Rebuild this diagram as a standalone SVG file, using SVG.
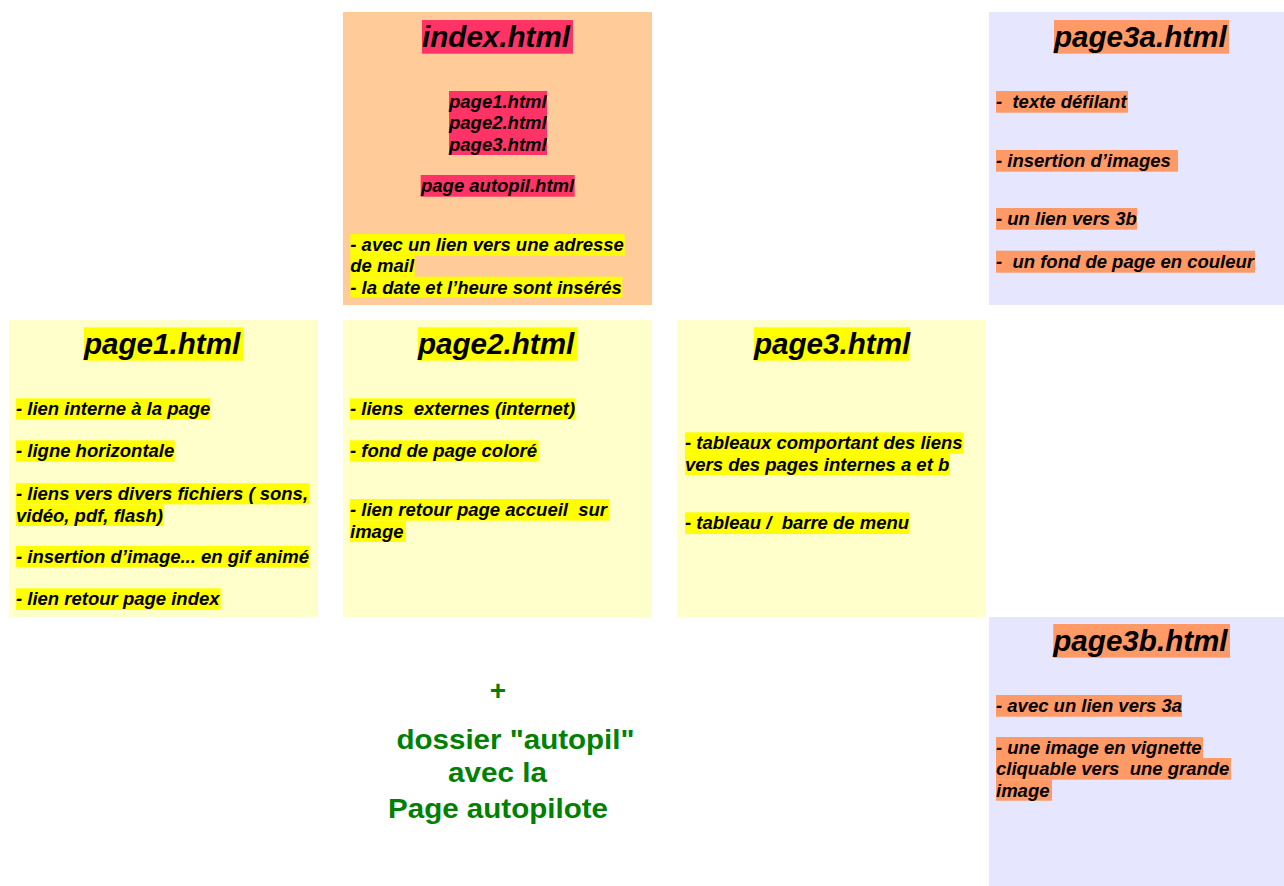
<svg xmlns="http://www.w3.org/2000/svg" width="1284" height="886" viewBox="0 0 1284 886">
<style>
text{font-family:"Liberation Sans",Arial,sans-serif;font-weight:bold;white-space:pre}
.t{font-size:29.6px;font-style:italic;fill:#000}
.b{font-size:18.5px;font-style:italic;fill:#000}
.g{font-size:28px;fill:#008000}
.idx{fill:#ffcc99}.yl{fill:#ffffcc}.lv{fill:#e6e6ff}
.hr{fill:#ff3366}.hy{fill:#ffff00}.ho{fill:#ff9966}
</style>
<rect width="1284" height="886" fill="#ffffff"/>
<g id="index">
<rect class="idx" x="343" y="12" width="309" height="293"/>
<rect class="hr" x="422" y="20" width="151" height="33.7"/>
<text class="t" x="422" y="47">index.html</text>
<rect class="hr" x="449" y="91" width="98" height="64"/>
<text class="b" x="449" y="108">page1.html</text>
<text class="b" x="449" y="129.3">page2.html</text>
<text class="b" x="449" y="150.6">page3.html</text>
<rect class="hr" x="420.7" y="175" width="154" height="21.7"/>
<text class="b" x="421" y="192">page autopil.html</text>
<rect class="hy" x="350.3" y="234" width="274.4" height="21.7"/>
<text class="b" x="350.3" y="251">- avec un lien vers une adresse</text>
<rect class="hy" x="350.3" y="255.7" width="64.4" height="21"/>
<text class="b" x="350.3" y="272.3">de mail</text>
<rect class="hy" x="350.3" y="276.7" width="272" height="20.6"/>
<text class="b" x="350.3" y="293.6">- la date et l’heure sont insérés</text>
</g>
<g id="page3a">
<rect class="lv" x="989" y="12" width="295" height="293"/>
<rect class="ho" x="1054" y="20" width="175" height="33.7"/>
<text class="t" x="1054" y="47">page3a.html</text>
<rect class="ho" x="996" y="91" width="132" height="21.7"/>
<text class="b" x="996" y="108">-  texte défilant</text>
<rect class="ho" x="996" y="150" width="182" height="21.7"/>
<text class="b" x="996" y="167">- insertion d’images </text>
<rect class="ho" x="996" y="208" width="141" height="21.7"/>
<text class="b" x="996" y="225">- un lien vers 3b</text>
<rect class="ho" x="996" y="250.7" width="259" height="22"/>
<text class="b" x="996" y="267.7">-  un fond de page en couleur</text>
</g>
<g id="page1">
<rect class="yl" x="9" y="320" width="309" height="297"/>
<rect class="hy" x="84" y="327.3" width="159" height="33.4"/>
<text class="t" x="84" y="354.4">page1.html</text>
<rect class="hy" x="16" y="398.3" width="194.3" height="21.4"/>
<text class="b" x="16" y="415.3">- lien interne à la page</text>
<rect class="hy" x="16" y="440.3" width="158.7" height="21.4"/>
<text class="b" x="16" y="457.3">- ligne horizontale</text>
<rect class="hy" x="16" y="483.3" width="293.7" height="21"/>
<text class="b" x="16" y="500.3">- liens vers divers fichiers ( sons,</text>
<rect class="hy" x="16" y="504.3" width="147.3" height="21.7"/>
<text class="b" x="16" y="521.6">vidéo, pdf, flash)</text>
<rect class="hy" x="16" y="546" width="293.3" height="21.3"/>
<text class="b" x="16" y="563">- insertion d’image... en gif animé</text>
<rect class="hy" x="16" y="588.3" width="204.7" height="21.7"/>
<text class="b" x="16" y="605.3">- lien retour page index</text>
</g>
<g id="page2">
<rect class="yl" x="343" y="320" width="309" height="297"/>
<rect class="hy" x="418" y="327.3" width="159" height="33.4"/>
<text class="t" x="418" y="354.4">page2.html</text>
<rect class="hy" x="350" y="398.3" width="225" height="21.4"/>
<text class="b" x="350" y="415.3">- liens  externes (internet)</text>
<rect class="hy" x="350" y="440.3" width="188.7" height="21.4"/>
<text class="b" x="350" y="457.3">- fond de page coloré</text>
<rect class="hy" x="350" y="499" width="259" height="21.7"/>
<text class="b" x="350" y="516">- lien retour page accueil  sur</text>
<rect class="hy" x="350" y="520.7" width="56" height="21.3"/>
<text class="b" x="350" y="537.5">image</text>
</g>
<g id="page3">
<rect class="yl" x="677" y="320" width="309" height="297"/>
<rect class="hy" x="754" y="327.3" width="156" height="33.4"/>
<text class="t" x="754" y="354.4">page3.html</text>
<rect class="hy" x="685" y="432.3" width="278" height="21.4"/>
<text class="b" x="685" y="449.3">- tableaux comportant des liens</text>
<rect class="hy" x="685" y="453.7" width="265" height="21.3"/>
<text class="b" x="685" y="470.7">vers des pages internes a et b</text>
<rect class="hy" x="685" y="512.3" width="224.3" height="21.7"/>
<text class="b" x="685" y="529.3">- tableau /  barre de menu</text>
</g>
<g id="page3b">
<rect class="lv" x="989" y="617" width="295" height="269"/>
<rect class="ho" x="1053.3" y="624" width="176.7" height="33.7"/>
<text class="t" x="1053.3" y="651">page3b.html</text>
<rect class="ho" x="996" y="695" width="186" height="21.7"/>
<text class="b" x="996" y="712">- avec un lien vers 3a</text>
<rect class="ho" x="996" y="737" width="207" height="21"/>
<text class="b" x="996" y="754">- une image en vignette</text>
<rect class="ho" x="996" y="758" width="235" height="21.7"/>
<text class="b" x="996" y="775.3">cliquable vers  une grande</text>
<rect class="ho" x="996" y="779.7" width="56" height="21"/>
<text class="b" x="996" y="796.6">image</text>
</g>
<g id="autopil">
<text class="g" x="498" y="700" text-anchor="middle">+</text>
<text class="g" x="396.5" y="748.5" textLength="238" lengthAdjust="spacingAndGlyphs">dossier "autopil"</text>
<text class="g" x="448" y="782" textLength="99" lengthAdjust="spacingAndGlyphs">avec la</text>
<text class="g" x="388" y="818" textLength="220" lengthAdjust="spacingAndGlyphs">Page autopilote</text>
</g>
<g id="connectors"></g>
</svg>
